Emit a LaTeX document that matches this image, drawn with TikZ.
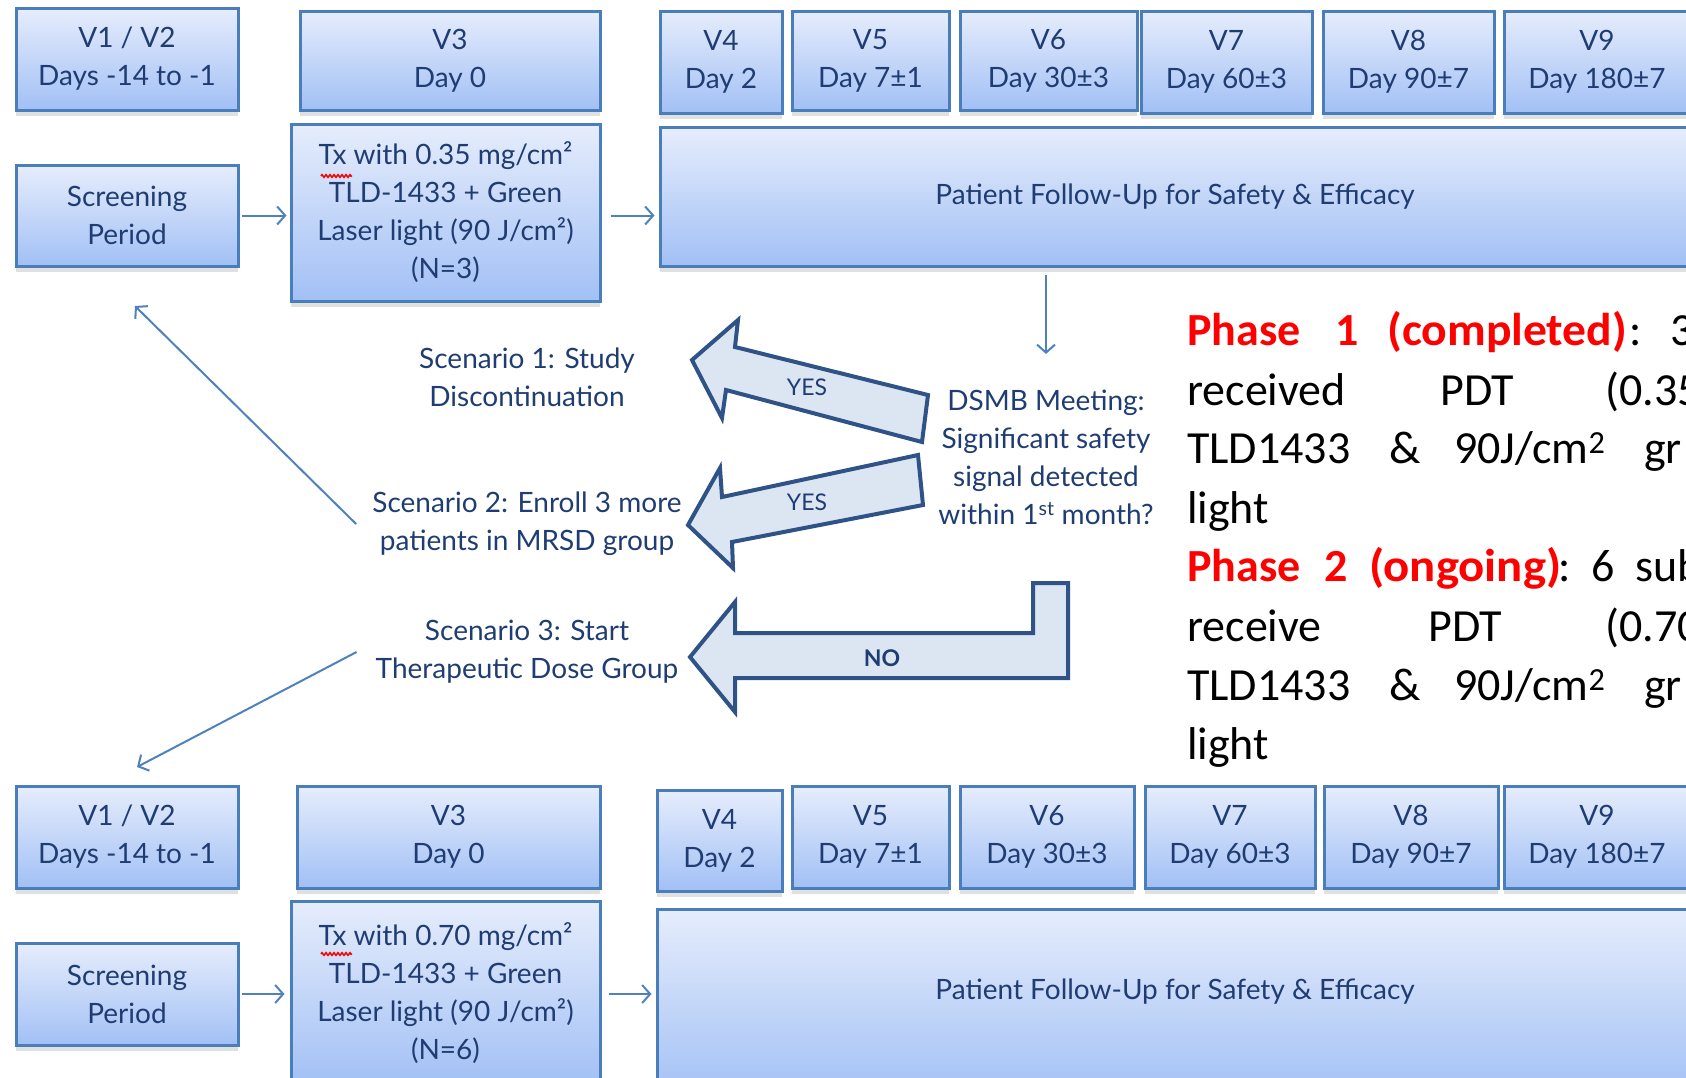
\documentclass[tikz,border=0pt]{standalone}
\usepackage{fontspec}
\setmainfont{Lato}
\newfontfamily\calfont{Carlito}
\usetikzlibrary{arrows.meta,shadows,decorations.pathmorphing}
\definecolor{bxborder}{HTML}{4A7EBB}
\definecolor{bxtop}{HTML}{E6EDFC}
\definecolor{bxbot}{HTML}{A2C0F5}
\definecolor{bxtext}{HTML}{1F3D72}
\definecolor{connblue}{HTML}{4F81BD}
\definecolor{bafill}{HTML}{DCE6F2}
\definecolor{badraw}{HTML}{2F5387}
\definecolor{phred}{HTML}{FF0000}
\begin{document}
\begin{tikzpicture}[x=1pt,y=-1pt,
  box/.style={draw=bxborder, line width=3pt, top color=bxtop, bottom color=bxbot,
    text=bxtext, align=center, inner sep=0pt, font=\fontsize{28}{38}\selectfont,
    drop shadow={shadow xshift=0pt, shadow yshift=-6pt, fill=black, opacity=0.12}},
  plain/.style={text=bxtext, align=center, inner sep=0pt, font=\fontsize{28}{38}\selectfont},
  conn/.style={draw=connblue, line width=2pt, -{Straight Barb[length=8pt,width=18pt]}},
  barrow/.style={fill=bafill, draw=badraw, line width=4pt, line join=miter},
  yesno/.style={text=bxtext, inner sep=0pt, font=\fontsize{23}{28}\selectfont},
  ph/.style={anchor=base west, inner sep=0pt, font=\calfont\fontsize{46}{58}\selectfont},
  phb/.style={ph, text=phred, font=\calfont\bfseries\fontsize{46}{58}\selectfont}
]
\path[use as bounding box] (0,0) rectangle (1686,1077);
\clip (0,0) rectangle (1686,1077);

% ---------- top row ----------
\node[box, minimum width=222pt, minimum height=102pt] (v12) at (127,59) {V1 / V2\\Days -14 to -1};
\node[box, minimum width=300pt, minimum height=99pt] (v3) at (450,60.5) {V3\\Day 0};
\node[box, minimum width=122pt, minimum height=102pt] (v4) at (721,62) {V4\\Day 2};
\node[box, minimum width=157pt, minimum height=99pt] (v5) at (870.5,60.5) {V5\\Day 7±1};
\node[box, minimum width=177pt, minimum height=99pt] (v6) at (1048.5,60.5) {V6\\Day 30±3};
\node[box, minimum width=171pt, minimum height=102pt] (v7) at (1226.5,62) {V7\\Day 60±3};
\node[box, minimum width=171pt, minimum height=102pt] (v8) at (1408.5,62) {V8\\Day 90±7};
\node[box, minimum width=186pt, minimum height=102pt] (v9) at (1597,62) {V9\\Day 180±7};

\node[box, minimum width=222pt, minimum height=101pt] (scr) at (127,215.5) {Screening\\Period};
\node[box, minimum width=309pt, minimum height=177pt] (tx) at (445.5,212.5)
  {Tx with 0.35 mg/cm²\\TLD-1433 + Green\\Laser light (90 J/cm²)\\(N=3)};
\node[box, minimum width=1030pt, minimum height=139pt] (fu) at (1175,196.5)
  {Patient Follow-Up for Safety \& Efficacy};
\draw[red, line width=1.5pt, decorate, decoration={zigzag, segment length=4pt, amplitude=1.3pt}]
  (321,176) -- (352,176);

\draw[conn, shorten <=2pt, shorten >=3pt] (scr.east) -- (scr.east -| tx.west);
\draw[conn, shorten <=9pt, shorten >=4pt] (scr.east -| tx.east) -- (scr.east -| fu.west);

% ---------- middle ----------
\node[plain] (dsmb) at (1046,457.5) {DSMB Meeting:\\Significant safety\\signal detected\\within 1\textsuperscript{st} month?};
\draw[conn, shorten <=7pt, shorten >=36pt] (fu.south -| dsmb.north) -- (dsmb.north);

\node[plain] (s1) at (527,377) {Scenario 1: Study\\Discontinuation};
\node[plain] (s2) at (527,524) {Scenario 2: Enroll 3 more\\patients in MRSD group};
\node[plain] (s3) at (527,652) {Scenario 3: Start\\Therapeutic Dose Group};

\coordinate (c1) at (135,306);
\coordinate (c2) at (137,767);
\draw[conn] ([xshift=-16pt]s2.west) -- (c1);
\draw[conn] ([xshift=-19pt]s3.west) -- (c2);

\draw[barrow] (928,395) -- (735,347) -- (738,320) -- (692,360) -- (722,418) -- (726,390) -- (922,442) -- cycle;
\node[yesno] (yes1) at (807,387) {YES};
\draw[barrow] (918,455) -- (722,497) -- (720,468) -- (688,525) -- (733,568) -- (732,542) -- (923,505) -- cycle;
\node[yesno] (yes2) at (807,502) {YES};
\draw[barrow] (1068,583) -- (1033,583) -- (1033,633) -- (735,633) -- (735,602) -- (690,657) -- (735,712) -- (735,678) -- (1068,678) -- cycle;
\node[yesno, font=\bfseries\fontsize{23}{28}\selectfont] (no) at (882,658) {NO};

% ---------- phase text ----------
\node[phb] (p1a) at (1187,345) {Phase};
\node[phb] (p1b) at (1335,345) {1};
\node[phb] (p1c) at (1387,345) {\scalebox{1.035}[1]{(completed)}};
\node[ph] (p1d) at (1629,345) {:};
\node[ph] (p1e) at (1670,345) {3};
\node[ph] (p2a) at (1187,405) {received};
\node[ph] (p2b) at (1440,405) {PDT};
\node[ph] (p2c) at (1605,405) {(0.35};
\node[ph] (p3a) at (1187,463) {TLD1433};
\node[ph] (p3b) at (1389,463) {\&};
\node[ph] (p3c) at (1454,463) {90J/cm\textsuperscript{2}};
\node[ph] (p3d) at (1644,463) {gr};
\node[ph] (p4a) at (1187,523) {light};
\node[phb] (p5a) at (1187,581) {Phase};
\node[phb] (p5b) at (1324,581) {2};
\node[phb] (p5c) at (1369,581) {\scalebox{1.06}[1]{(ongoing)}};
\node[ph] (p5d) at (1558,581) {:};
\node[ph] (p5e) at (1591,581) {6};
\node[ph] (p5f) at (1635,581) {sub};
\node[ph] (p6a) at (1187,641) {receive};
\node[ph] (p6b) at (1428,641) {PDT};
\node[ph] (p6c) at (1605,641) {(0.70};
\node[ph] (p7a) at (1187,700) {TLD1433};
\node[ph] (p7b) at (1389,700) {\&};
\node[ph] (p7c) at (1454,700) {90J/cm\textsuperscript{2}};
\node[ph] (p7d) at (1644,700) {gr};
\node[ph] (p8a) at (1187,759) {light};

% ---------- bottom row ----------
\node[box, minimum width=222pt, minimum height=102pt] (bv12) at (127,837) {V1 / V2\\Days -14 to -1};
\node[box, minimum width=303pt, minimum height=102pt] (bv3) at (448.5,837) {V3\\Day 0};
\node[box, minimum width=125pt, minimum height=101pt] (bv4) at (719.5,840.5) {V4\\Day 2};
\node[box, minimum width=157pt, minimum height=102pt] (bv5) at (870.5,837) {V5\\Day 7±1};
\node[box, minimum width=174pt, minimum height=102pt] (bv6) at (1047,837) {V6\\Day 30±3};
\node[box, minimum width=170pt, minimum height=102pt] (bv7) at (1230,837) {V7\\Day 60±3};
\node[box, minimum width=174pt, minimum height=102pt] (bv8) at (1411,837) {V8\\Day 90±7};
\node[box, minimum width=186pt, minimum height=102pt] (bv9) at (1597,837) {V9\\Day 180±7};

\node[box, minimum width=222pt, minimum height=102pt] (bscr) at (127,994) {Screening\\Period};
\node[box, minimum width=309pt, minimum height=184pt] (btx) at (445.5,993)
  {Tx with 0.70 mg/cm²\\TLD-1433 + Green\\Laser light (90 J/cm²)\\(N=6)};
\node[box, minimum width=1033pt, minimum height=190pt] (bfu) at (1173.5,1004) {};
\node[plain] (bfut) at (1175,992) {Patient Follow-Up for Safety \& Efficacy};
\draw[red, line width=1.5pt, decorate, decoration={zigzag, segment length=4pt, amplitude=1.3pt}]
  (321,954) -- (352,954);

\draw[conn, shorten <=2pt, shorten >=5pt] (bscr.east) -- (bscr.east -| btx.west);
\draw[conn, shorten <=7pt, shorten >=4pt] (bscr.east -| btx.east) -- (bscr.east -| bfu.west);
\end{tikzpicture}
\end{document}
